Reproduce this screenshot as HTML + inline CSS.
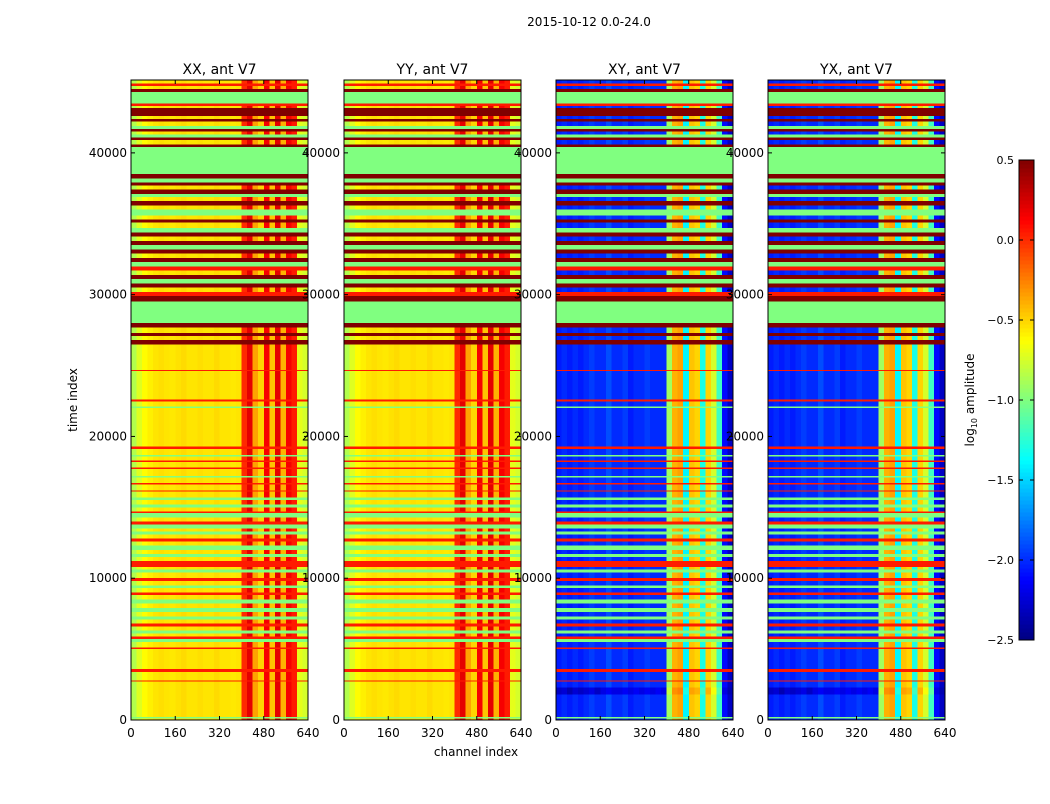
<!DOCTYPE html>
<html><head><meta charset="utf-8">
<style>
body{margin:0;background:#fff;font-family:"DejaVu Sans","Liberation Sans",sans-serif;}
svg text{font-family:"DejaVu Sans","Liberation Sans",sans-serif;}
</style></head>
<body>
<svg id="fig" width="1050" height="800" viewBox="0 0 1050 800" xmlns="http://www.w3.org/2000/svg">
<rect width="1050" height="800" fill="#fff"/>
<text x="589" y="26" font-size="12" text-anchor="middle">2015-10-12 0.0-24.0</text>
<text x="476" y="756" font-size="12" text-anchor="middle">channel index</text>
<text x="77" y="400" font-size="12" text-anchor="middle" transform="rotate(-90 77 400)">time index</text>
<text x="974" y="400" font-size="12" text-anchor="middle" transform="rotate(-90 974 400)">log<tspan font-size="8" dy="3">10</tspan><tspan dy="-3"> amplitude</tspan></text>
<g id="panels"></g>
<g id="cbar"></g>
</svg>
<script>
// ---- data ----
const panelTitles = ["XX, ant V7","YY, ant V7","XY, ant V7","YX, ant V7"];
const panelKinds = ["par","par","cross","cross"];
const xTicks = [0,160,320,480,640];
const yTicks = [0,10000,20000,30000,40000];
const cbTicks = [0.5,0.0,-0.5,-1.0,-1.5,-2.0,-2.5];
const cbTickLabels = ["0.5","0.0","\u22120.5","\u22121.0","\u22121.5","\u22122.0","\u22122.5"];
// channel bins of 20 channels (32 bins), log10 amplitude
const parProfile = [-0.85,-0.72,-0.62,-0.58,-0.55,-0.53,-0.55,-0.56,-0.54,-0.52,-0.55,-0.55,-0.53,-0.55,-0.55,-0.52,-0.55,-0.55,-0.56,-0.55,
  0.0,0.2,-0.35,-0.5,0.15,-0.45,0.2,-0.4,0.15,0.05,-0.7,-0.75];
const crossProfile = [-2.05,-2.0,-2.05,-2.0,-2.05,-2.0,-1.95,-2.0,-2.0,-1.9,-2.0,-2.0,-1.95,-2.05,-2.0,-2.0,-1.95,-2.0,-2.0,-2.0,
  -0.9,-0.4,-0.35,-1.4,-0.45,-0.5,-1.3,-0.5,-0.75,-1.2,-2.1,-2.3];
const crossDarkProfile = [-2.3,-2.25,-2.35,-2.25,-2.3,-2.25,-2.2,-2.3,-2.2,-2.15,-2.2,-2.2,-2.15,-2.2,-2.15,-2.2,-2.15,-2.2,-2.15,-2.2,
  -0.8,-0.3,-0.25,-1.3,-0.35,-0.4,-1.2,-0.4,-0.65,-1.1,-2.2,-2.35];
// uniform row values by type: 1 flagged green, 2 red line, 3 dark red
const uniformValues = {1:-1.0, 2:0.05, 3:0.5};
// bands: [startTime, endTime, type] type 0 normal, 4 dark normal
const bands = [
[44900,45140,0],[44700,44900,2],[44500,44700,0],[44300,44500,3],[43500,44300,1],[43300,43500,2],[43150,43300,0],
[42600,43150,3],[42400,42600,0],[42200,42400,3],[41900,42200,0],[41700,41900,1],[41500,41700,3],[41300,41500,0],
[41100,41300,1],[40900,41100,3],[40600,40900,0],[40400,40600,3],[38500,40400,1],[38200,38500,3],[37900,38200,1],
[37700,37900,3],[37400,37700,0],[37100,37400,3],[36900,37100,1],[36600,36900,0],[36300,36600,3],[36000,36300,0],
[35600,36000,1],[35300,35600,0],[35100,35300,3],[34700,35100,0],[34400,34700,1],[34100,34400,3],[33800,34100,0],
[33500,33800,3],[33200,33500,1],[32900,33200,3],[32600,32900,0],[32300,32600,3],[32000,32300,1],[31700,32000,2],
[31400,31700,0],[31100,31400,3],[30800,31100,1],[30500,30800,3],[30200,30500,0],[29900,30200,2],[29500,29900,3],
[28000,29500,1],[27700,28000,3],[27300,27700,0],[27100,27300,3],[26800,27100,0],[26500,26800,3],[24700,26500,0],
[24600,24700,2],[22600,24600,0],[22450,22600,2],[22100,22450,0],[22000,22100,1],[19300,22000,0],
[19100,19300,2],[18700,19100,0],[18600,18700,1],[18300,18600,0],[18200,18300,2],[17800,18200,0],[17700,17800,2],
[17200,17700,0],[17100,17200,1],[16700,17100,0],[16600,16700,2],[16200,16600,0],[16100,16200,2],[15700,16100,0],
[15500,15700,1],[15200,15500,0],[15000,15200,1],[14700,15000,0],[14600,14700,2],[14300,14600,1],[14000,14300,0],
[13800,14000,2],[13500,13800,1],[13300,13500,0],[13100,13300,1],[12800,13100,0],[12600,12800,2],[12300,12600,0],
[12000,12300,1],[11700,12000,0],[11500,11700,1],[11200,11500,0],[11000,11200,2],[10800,11000,2],[10600,10800,0],
[10400,10600,1],[10000,10400,0],[9800,10000,2],[9500,9800,0],[9300,9500,1],[9000,9300,0],[8800,9000,2],
[8500,8800,0],[8200,8500,1],[7900,8200,0],[7600,7900,1],[7300,7600,0],[7100,7300,1],[6800,7100,0],[6600,6800,2],
[6300,6600,0],[6100,6300,1],[5900,6100,0],[5700,5900,2],[5500,5700,1],[5100,5500,0],[5000,5100,2],[3600,5000,0],
[3400,3600,2],[2800,3400,0],[2700,2800,2],[2300,2700,0],[1800,2300,4],[200,1800,0],[100,200,1],[0,100,0]
];
// ---- layout ----
const NS="http://www.w3.org/2000/svg";
const panelX=[131,344,556,768], PW=177, PT=80, PB=720, TMAX=45140, CMAX=640;
const vmin=-2.5, vmax=0.5;
function jet(v){
  let x=(v-vmin)/(vmax-vmin); x=Math.max(0,Math.min(1,x));
  const c=t=>Math.round(255*Math.max(0,Math.min(1,t)));
  return `rgb(${c(Math.min(4*x-1.5,-4*x+4.5))},${c(Math.min(4*x-0.5,-4*x+3.5))},${c(Math.min(4*x+0.5,-4*x+2.5))})`;
}
function mk(tag,attrs,parent){const e=document.createElementNS(NS,tag);for(const k in attrs)e.setAttribute(k,attrs[k]);parent.appendChild(e);return e;}
const panels=document.getElementById('panels');
panelTitles.forEach((title,p)=>{
  const x0=panelX[p];
  const xs=c=>x0+c/CMAX*PW;
  const ys=t=>PB-t/TMAX*(PB-PT);
  const g=mk('g',{},panels);
  
  
  const hm=mk('g',{'shape-rendering':'crispEdges'},g);
  
  
  bands.forEach(b=>{
    const y1=ys(b[1]), y2=ys(b[0]), h=y2-y1;
    const type=b[2];
    if(uniformValues[type]!==undefined){
      const r=mk('rect',{x:xs(0),y:y1,width:xs(CMAX)-xs(0),height:h,fill:jet(uniformValues[type])},hm);
      
      
    } else {
      const prof = panelKinds[p]==='par' ? parProfile : (type===4 ? crossDarkProfile : crossProfile);
      prof.forEach((v,i)=>{
        const c0=i*CMAX/prof.length, c1=(i+1)*CMAX/prof.length;
        const r=mk('rect',{x:xs(c0),y:y1,width:xs(c1)-xs(c0)+0.3,height:h,fill:jet(v)},hm);
        
        
      });
    }
  });
  const fr=mk('rect',{x:x0,y:PT,width:PW,height:PB-PT,fill:'none',stroke:'#000','stroke-width':1},g);
  
  
  const tt=mk('text',{x:x0+PW/2,y:74,'font-size':14,'text-anchor':'middle'},g);
  tt.textContent=title;
  
  
  xTicks.forEach(v=>{
    const x=xs(v);
    mk('line',{x1:x,x2:x,y1:PB,y2:PB-4,stroke:'#000'},g);
    mk('line',{x1:x,x2:x,y1:PT,y2:PT+4,stroke:'#000'},g);
    const t=mk('text',{x:x,y:737,'font-size':12,'text-anchor':'middle'},g);
    t.textContent=v;
    
    
  });
  yTicks.forEach(v=>{
    const y=ys(v);
    mk('line',{x1:x0,x2:x0+4,y1:y,y2:y,stroke:'#000'},g);
    mk('line',{x1:x0+PW,x2:x0+PW-4,y1:y,y2:y,stroke:'#000'},g);
    const t=mk('text',{x:x0-4,y:y+4,'font-size':12,'text-anchor':'end'},g);
    t.textContent=v;
    
    
  });
});
// colorbar
const cb=document.getElementById('cbar');
const CBX=1019, CBW=15, CBT=160, CBB=640;
const cys=v=>CBB-(v-vmin)/(vmax-vmin)*(CBB-CBT);
const cbg=mk('g',{'shape-rendering':'crispEdges'},cb);


for(let i=0;i<120;i++){
  const v0=vmin+i*(vmax-vmin)/120, v1=vmin+(i+1)*(vmax-vmin)/120;
  mk('rect',{x:CBX,y:cys(v1),width:CBW,height:cys(v0)-cys(v1)+0.5,fill:jet((v0+v1)/2)},cbg);
}
mk('rect',{x:CBX,y:CBT,width:CBW,height:CBB-CBT,fill:'none',stroke:'#000'},cb);
cbTicks.forEach((v,i)=>{
  const y=cys(v);
  mk('line',{x1:CBX,x2:CBX+4,y1:y,y2:y,stroke:'#000'},cb);
  mk('line',{x1:CBX+CBW,x2:CBX+CBW-4,y1:y,y2:y,stroke:'#000'},cb);
  const t=mk('text',{x:CBX-5,y:y+4,'font-size':11,'text-anchor':'end'},cb);
  t.textContent=cbTickLabels[i];
  
  
});
</script>
</body></html>
